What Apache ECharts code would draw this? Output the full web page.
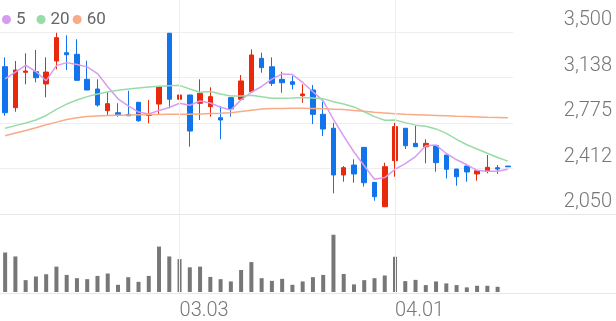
<!DOCTYPE html>
<html>
<head>
<meta charset="utf-8">
<script src="https://cdn.jsdelivr.net/npm/echarts@6/dist/echarts.min.js"></script>
<style>
html,body{margin:0;padding:0;background:#fff;}
#chart{width:616px;height:321px;}
</style>
</head>
<body>
<div id="chart"></div>
<script>
const dates = ['02.03','02.04','02.05','02.08','02.09','02.10','02.15','02.16','02.17','02.18','02.19','02.22','02.23','02.24','02.25','02.26','03.02','03.03','03.04','03.05','03.08','03.09','03.10','03.11','03.12','03.15','03.16','03.17','03.18','03.19','03.22','03.23','03.24','03.25','03.26','03.29','03.30','03.31','04.01','04.02','04.05','04.06','04.07','04.08','04.09','04.12','04.13','04.14','04.15','04.16'];
const xTickLabels = ['03.03','04.01'];
const priceTickLabels = ['2,050','2,412','2,775','3,138','3,500'];

const openP  = [3224,2897,3179,3184,3086,3269,3335,3322,3123,3046,2873,2857,2844,2940,2836,2926,3490,2964,2998,2932,2905,2817,2977,2964,3024,3290,3223,3123,3104,2993,3038,2844,2733,2361,2440,2581,2302,2108,2475,2733,2613,2586,2594,2520,2408,2432,2369,2390,2419,2432];
const closeP = [2857,3197,3189,3136,3181,3455,3319,3115,3038,2918,2929,2839,2833,2793,2842,3064,2964,2998,2711,3012,2985,2799,2887,3110,3317,3216,3091,3096,3083,3006,2844,2727,2361,2419,2369,2299,2188,2427,2746,2594,2586,2613,2459,2406,2347,2385,2395,2422,2408,2426];
const lowP   = [2833,2865,3083,3099,2980,3203,3197,3110,3035,2905,2839,2825,2831,2785,2773,2839,2892,2844,2586,2799,2825,2645,2825,2960,3016,3176,3070,3016,3043,2937,2767,2671,2215,2307,2299,2268,2156,2105,2347,2568,2584,2454,2387,2334,2275,2307,2315,2374,2369,2426];
const highP  = [3298,3269,3330,3357,3298,3494,3474,3442,3271,3123,3024,2932,3032,2942,2958,3066,3492,3157,3000,3123,3059,2910,2980,3157,3362,3335,3298,3184,3149,3083,3078,2945,2777,2432,2486,2583,2304,2459,2777,2735,2751,2645,2596,2522,2410,2434,2397,2520,2440,2432];

const ma5  = [3126,3180,3235,3185,3112,3232,3256,3241,3222,3169,3064,2968,2911,2862,2847,2874,2899,2932,2916,2950,2934,2901,2879,2959,3020,3066,3124,3166,3161,3098,3024,2951,2804,2671,2544,2435,2327,2340,2406,2451,2508,2593,2600,2532,2482,2442,2398,2391,2391,2407];
const ma20 = [2733,2754,2775,2799,2835,2883,2926,2958,2985,3006,3022,3036,3046,3054,3062,3067,3072,3075,3046,3020,3026,3006,2991,2990,2996,2985,2973,2972,2974,2979,2975,2969,2945,2927,2903,2865,2826,2797,2799,2778,2758,2749,2728,2692,2644,2602,2568,2534,2500,2471];
const ma60 = [2674,2695,2715,2737,2761,2782,2803,2816,2826,2831,2834,2837,2839,2841,2842,2843,2844,2844,2844,2847,2850,2853,2857,2867,2877,2887,2890,2891,2892,2892,2891,2888,2885,2882,2875,2868,2861,2855,2848,2844,2841,2838,2835,2832,2828,2826,2823,2820,2819,2817];

const volume = [400000,360000,120000,157000,180000,257000,173000,140000,130000,163000,187000,73000,150000,103000,163000,460000,360000,333000,250000,257000,153000,130000,107000,223000,303000,140000,113000,133000,73000,107000,150000,173000,580000,183000,77000,120000,140000,167000,357000,110000,123000,70000,107000,87000,70000,47000,63000,63000,53000,0];

const legendNames = ['5', '20', '60'];

const UP = '#e8290c', DOWN = '#1174ec';
const FONT = 'Roboto, "Noto Sans", sans-serif';

const candleData = dates.map((d, i) => [openP[i], closeP[i], lowP[i], highP[i]]);

const chart = echarts.init(document.getElementById('chart'), null, {renderer: 'canvas'});
chart.setOption({
  animation: false,
  backgroundColor: '#fff',
  legend: {
    data: legendNames.map((n, i) => ({name: n, textStyle: {padding: i === 0 ? [0, 8, 0, 0] : 0}})),
    left: 2, top: 11, padding: 0,
    icon: 'circle', itemWidth: 9, itemHeight: 9, itemGap: 3,
    textStyle: {fontSize: 17, color: '#666', fontFamily: FONT, verticalAlign: 'top', lineHeight: 3}
  },
  grid: [
    {left: 0, right: 103, top: 32, height: 182},
    {left: 0, right: 103, top: 214, height: 79},
    {left: 0, right: 103, top: 0, height: 293},
    {left: 0, right: 0, top: 214, height: 79}
  ],
  xAxis: [
    {type: 'category', gridIndex: 0, data: dates, boundaryGap: true,
     axisLine: {show: false}, axisTick: {show: false}, axisLabel: {show: false}, splitLine: {show: false}},
    {type: 'category', gridIndex: 1, data: dates, boundaryGap: true,
     axisLine: {show: false}, axisTick: {show: false}, splitLine: {show: false},
     axisLabel: {show: true, interval: (idx, val) => xTickLabels.includes(val), align: 'left',
       margin: 9, fontSize: 20, color: '#777', fontFamily: FONT, fontWeight: 300}},
    {type: 'category', gridIndex: 2, data: dates, boundaryGap: true, show: false},
    {type: 'value', gridIndex: 3, show: false, min: 0, max: 1}
  ],
  yAxis: [
    {type: 'value', gridIndex: 0, position: 'right', min: 2050, max: 3500, interval: 362.5,
     axisLine: {show: false}, axisTick: {show: false},
     splitLine: {show: true, lineStyle: {color: '#eeeeee', width: 1}},
     axisLabel: {show: true, inside: false, align: 'right', margin: 99, verticalAlign: 'bottom',
       padding: [0, 0, 2, 0], fontSize: 20, color: '#777', fontFamily: FONT, fontWeight: 300,
       formatter: (v, i) => priceTickLabels[i]}},
    {type: 'value', gridIndex: 1, min: 0, max: 790000, show: false, splitLine: {show: false}},
    {type: 'value', gridIndex: 2, min: 0, max: 1, show: false},
    {type: 'value', gridIndex: 3, min: 0, max: 1, interval: 1,
     axisLine: {show: false}, axisTick: {show: false}, axisLabel: {show: false},
     splitLine: {show: true, lineStyle: {color: '#e6e6e6', width: 1}}}
  ],
  series: [
    {type: 'line', xAxisIndex: 2, yAxisIndex: 2, data: dates.map(() => null), z: 1, silent: true,
     markLine: {silent: true, symbol: ['none', 'none'], label: {show: false},
       lineStyle: {color: '#eeeeee', type: 'solid', width: 1},
       data: xTickLabels.map(d => ({xAxis: d}))}},
    {name: 'price', type: 'candlestick', xAxisIndex: 0, yAxisIndex: 0, data: candleData, barWidth: 5, z: 3,
     itemStyle: {color: UP, color0: DOWN, borderColor: UP, borderColor0: DOWN, borderWidth: 1}},
    {name: '5', type: 'line', xAxisIndex: 0, yAxisIndex: 0, data: ma5, showSymbol: false, symbol: 'none', z: 4,
     color: '#d79cf0', lineStyle: {width: 1.5, color: '#d79cf0'}},
    {name: '20', type: 'line', xAxisIndex: 0, yAxisIndex: 0, data: ma20, showSymbol: false, symbol: 'none', z: 4,
     color: '#98dca8', lineStyle: {width: 1.5, color: '#98dca8'}},
    {name: '60', type: 'line', xAxisIndex: 0, yAxisIndex: 0, data: ma60, showSymbol: false, symbol: 'none', z: 4,
     color: '#f8ab86', lineStyle: {width: 1.5, color: '#f8ab86'}},
    {name: 'vol', type: 'bar', xAxisIndex: 1, yAxisIndex: 1, data: volume, barWidth: 4,
     itemStyle: {color: '#777777'}}
  ]
});
</script>
</body>
</html>
